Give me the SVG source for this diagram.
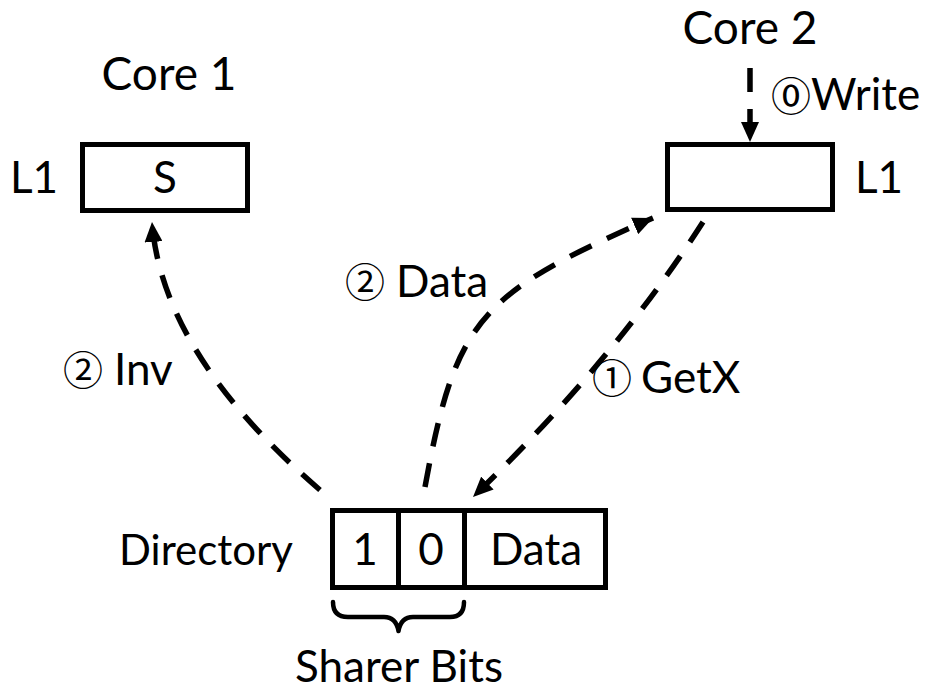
<svg xmlns="http://www.w3.org/2000/svg" width="942" height="692" viewBox="0 0 942 692">
  <style>
    .box { fill: #fff; stroke: #000; stroke-width: 5; }
    .sep { stroke: #000; stroke-width: 5; }
    .lbl { font-family: Lato, "Noto Sans", sans-serif; font-size: 44px; fill: #000; }
    .big { font-size: 46px; }
    .dir { font-size: 42px; }
    .num { font-family: "Noto Sans CJK JP", "Noto Sans", sans-serif; font-size: 40px; fill: #000; }
    .zero { font-family: "DejaVu Sans", "Noto Sans CJK JP", sans-serif; font-size: 40px; fill: #000; }
    .msg { fill: none; stroke: #000; stroke-width: 5.5; stroke-dasharray: 24 17; marker-end: url(#head); }
    .brace { fill: none; stroke: #000; stroke-width: 4.5; stroke-linecap: round; stroke-linejoin: round; }
  </style>
  <defs>
    <marker id="head" viewBox="0 0 20 18" refX="20" refY="9" markerWidth="20" markerHeight="18" markerUnits="userSpaceOnUse" orient="auto">
      <path d="M0,0 L20,9 L0,18 z" fill="#000"/>
    </marker>
  </defs>

  <rect width="942" height="692" fill="#fff"/>

  <!-- Core 1 with its private L1 -->
  <g id="core1">
    <text class="lbl big" x="169" y="90" text-anchor="middle">Core 1</text>
    <text class="lbl" x="34" y="193" text-anchor="middle">L1</text>
    <rect class="box" x="82.5" y="144.5" width="165" height="66"/>
    <text class="lbl" x="165" y="193" text-anchor="middle">S</text>
  </g>

  <!-- Core 2 with its private L1 -->
  <g id="core2">
    <text class="lbl big" x="750" y="44" text-anchor="middle">Core 2</text>
    <rect class="box" x="667.5" y="144.5" width="165" height="65"/>
    <text class="lbl" x="879" y="193" text-anchor="middle">L1</text>
  </g>

  <!-- Directory entry: sharer bits + data -->
  <g id="directory">
    <text class="lbl dir" x="293" y="565" text-anchor="end">Directory</text>
    <rect class="box" x="332.5" y="510.5" width="273" height="77"/>
    <line class="sep" x1="398.5" y1="510.5" x2="398.5" y2="587.5"/>
    <line class="sep" x1="464.5" y1="510.5" x2="464.5" y2="587.5"/>
    <text class="lbl" x="365" y="565" text-anchor="middle">1</text>
    <text class="lbl" x="431" y="565" text-anchor="middle">0</text>
    <text class="lbl" x="536" y="565" text-anchor="middle">Data</text>
  </g>

  <g id="sharer-bits">
    <path class="brace" d="M333,602 Q333,617 348,617 L384,617 Q396,617 398.5,631 Q401,617 413,617 L450,617 Q464,617 464,602"/>
    <text class="lbl" x="399" y="682" text-anchor="middle">Sharer Bits</text>
  </g>

  <!-- Coherence messages -->
  <g id="connectors">
    <path class="msg" d="M750,68 L750,142"/>
    <path class="msg" d="M703,222 Q614,361 473,497"/>
    <path class="msg" d="M425,487 C455.6,320.5 478,293.6 653,218"/>
    <path class="msg" d="M320,490 Q162,354 152,222"/>
  </g>

  <!-- Message labels -->
  <g id="labels">
    <text class="zero" x="771" y="111">⓪</text>
    <text class="lbl" x="811" y="110">Write</text>
    <text class="num" x="592" y="393">①</text>
    <text class="lbl" x="641" y="393">GetX</text>
    <text class="num" x="345" y="297">②</text>
    <text class="lbl" x="396" y="297">Data</text>
    <text class="num" x="63" y="385">②</text>
    <text class="lbl" x="114" y="385">Inv</text>
  </g>
</svg>
